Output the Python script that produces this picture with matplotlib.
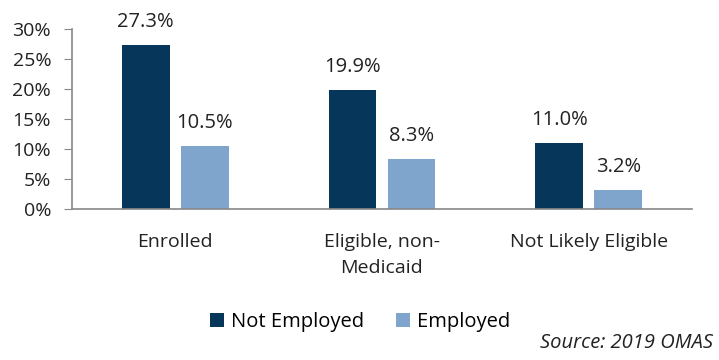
import matplotlib.pyplot as plt
import numpy as np

categories = ["Enrolled", "Eligible, non-\nMedicaid", "Not Likely Eligible"]
not_employed = [27.3, 19.9, 11.0]
employed = [10.5, 8.3, 3.2]

plt.rcParams['font.family'] = ['Open Sans', 'DejaVu Sans']

fig = plt.figure(figsize=(7.19, 3.6), dpi=100)
ax = fig.add_axes([72 / 719, 1 - 209 / 360, 620 / 719, 180 / 360])

x = np.arange(len(categories))
w = 0.23
off = 0.143
b1 = ax.bar(x - off, not_employed, w, color='#06375a', label='Not Employed')
b2 = ax.bar(x + off, employed, w, color='#7fa5cc', label='Employed')

for bars, vals in ((b1, not_employed), (b2, employed)):
    for rect, v in zip(bars, vals):
        ax.text(rect.get_x() + rect.get_width() / 2, v + 3.8, f"{v:.1f}%",
                ha='center', va='center', fontsize=14.5, color='#222222')

ax.set_xlim(-0.5, 2.5)
ax.set_ylim(0, 30)
ax.set_yticks(range(0, 31, 5))
ax.set_yticklabels([f"{t}%" for t in range(0, 31, 5)])
ax.set_xticks(x)
ax.set_xticklabels(categories, linespacing=1.6)
ax.tick_params(axis='y', labelsize=14, colors='#222222', length=6, color='#888888', pad=9)
ax.tick_params(axis='x', labelsize=14, colors='#222222', length=0, pad=17)
for s in ('top', 'right'):
    ax.spines[s].set_visible(False)
ax.spines['left'].set_color('#888888')
ax.spines['bottom'].set_color('#888888')
ax.spines['left'].set_linewidth(1.2)
ax.spines['bottom'].set_linewidth(1.2)

fig.legend(handles=[b1, b2], loc='center', bbox_to_anchor=(360 / 719, 1 - 322 / 360),
           ncol=2, frameon=False, fontsize=14.5, handlelength=0.7, handleheight=0.7,
           handletextpad=0.35, columnspacing=1.6)
fig.text(713 / 719, 1 - 343 / 360, "Source: 2019 OMAS", ha='right', va='center',
         fontsize=14.5, style='italic', color='#222222')

fig.savefig('out.png', dpi=100)
